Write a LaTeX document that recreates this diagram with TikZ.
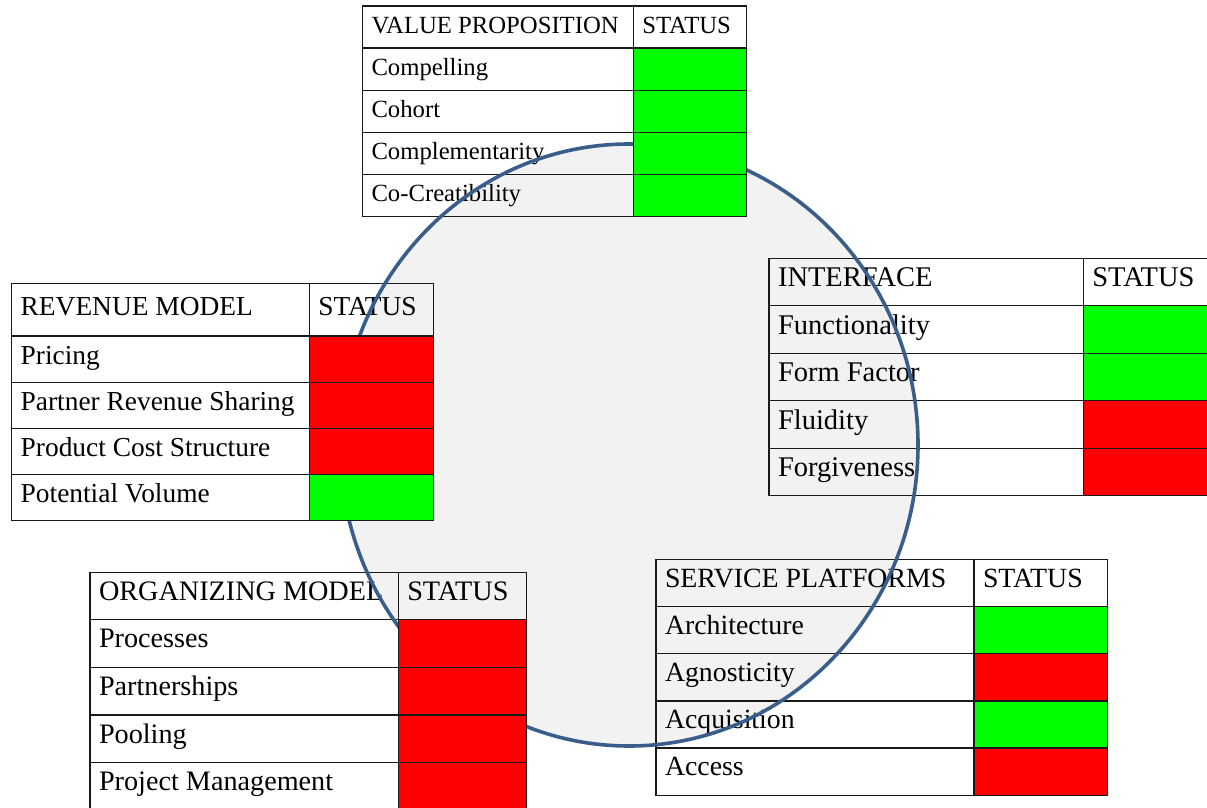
\documentclass[tikz,border=0pt]{standalone}
\usepackage{fontspec}
\setmainfont{Liberation Serif}

\definecolor{okgreen}{RGB}{0,255,0}
\definecolor{badred}{RGB}{255,0,0}
\definecolor{ringblue}{RGB}{58,94,139}
\definecolor{ringfill}{RGB}{242,242,242}
\definecolor{rule}{RGB}{25,25,25}

\pgfdeclarelayer{back}
\pgfdeclarelayer{ring}
\pgfdeclarelayer{front}
\pgfsetlayers{back,main,ring,front}

\tikzset{
  cell/.style={draw=rule, line width=1.2pt, rectangle, anchor=north west,
               inner sep=0pt, outer sep=0pt},
  celltext/.style={anchor=base west, inner sep=0pt, outer sep=0pt},
}

% #1 name, #2 left x, #3 divider x, #4 right x, #5 top y,
% #6 header height, #7 row height, #8 title, #9 rows (text/colour)
% font in \tblfont, baseline fraction in \tblbase
\newcommand\statustable[9]{%
  \pgfmathsetmacro\wL{#3-#2}%
  \pgfmathsetmacro\wR{#4-#3}%
  \node[cell, minimum width=\wL pt, minimum height=#6pt] (#1-h) at (#2,#5) {};
  \node[cell, minimum width=\wR pt, minimum height=#6pt] (#1-hs) at (#3,#5) {};
  \node[celltext, font=\tblfont] (#1-ht) at ({#2+9},{#5+\tblbase*#6}) {#8};
  \node[celltext, font=\tblfont] (#1-hst) at ({#3+9},{#5+\tblbase*#6}) {STATUS};
  \foreach \txt/\col [count=\i from 0] in {#9} {
    \pgfmathsetmacro\rowtop{#5+#6+\i*#7}
    \node[cell, minimum width=\wL pt, minimum height=#7pt] (#1-r\i) at (#2,\rowtop) {};
    \node[celltext, font=\tblfont] (#1-t\i) at ({#2+9},{\rowtop+\tblbase*#7}) {\txt};
    \begin{pgfonlayer}{front}
      \node[cell, fill=\col, minimum width=\wR pt, minimum height=#7pt] (#1-s\i) at (#3,\rowtop) {};
    \end{pgfonlayer}
  }
}

\begin{document}
\begin{tikzpicture}[x=1pt, y=-1pt]
  \useasboundingbox (0,0) rectangle (1207,808);

  % the ring behind the tables
  \begin{pgfonlayer}{back}
    \fill[ringfill] (629,445) ellipse [x radius=289pt, y radius=301pt];
  \end{pgfonlayer}
  \begin{pgfonlayer}{ring}
    \draw[ringblue, line width=3.6pt] (629,445) ellipse [x radius=289pt, y radius=301pt];
  \end{pgfonlayer}

  \def\tblfont{\fontsize{24.7}{28}\selectfont}\def\tblbase{0.645}
  \statustable{vp}{362.5}{633.3}{746.5}{6}{42}{42.2}{VALUE PROPOSITION}
    {Compelling/okgreen, Cohort/okgreen, Complementarity/okgreen, Co-Creatibility/okgreen}

  \def\tblfont{\fontsize{27.4}{31}\selectfont}\def\tblbase{0.61}
  \statustable{rev}{11.7}{309.3}{433.3}{283.3}{52.7}{46.2}{REVENUE MODEL}
    {Pricing/badred, Partner Revenue Sharing/badred, Product Cost Structure/badred, Potential Volume/okgreen}

  \def\tblfont{\fontsize{28.5}{32}\selectfont}\def\tblbase{0.6}
  \statustable{ifc}{769}{1083.3}{1215}{258.3}{47.4}{47.5}{INTERFACE}
    {Functionality/okgreen, Form Factor/okgreen, Fluidity/badred, Forgiveness/badred}

  \def\tblfont{\fontsize{28.2}{32}\selectfont}\def\tblbase{0.59}
  \statustable{org}{90}{398.3}{526.7}{572.3}{47}{47.8}{ORGANIZING MODEL}
    {Processes/badred, Partnerships/badred, Pooling/badred, Project Management/badred}

  \def\tblfont{\fontsize{27.8}{31}\selectfont}\def\tblbase{0.59}
  \statustable{svc}{656}{974}{1107.3}{559.7}{47}{47.1}{SERVICE PLATFORMS}
    {Architecture/okgreen, Agnosticity/badred, Acquisition/okgreen, Access/badred}
\end{tikzpicture}
\end{document}
